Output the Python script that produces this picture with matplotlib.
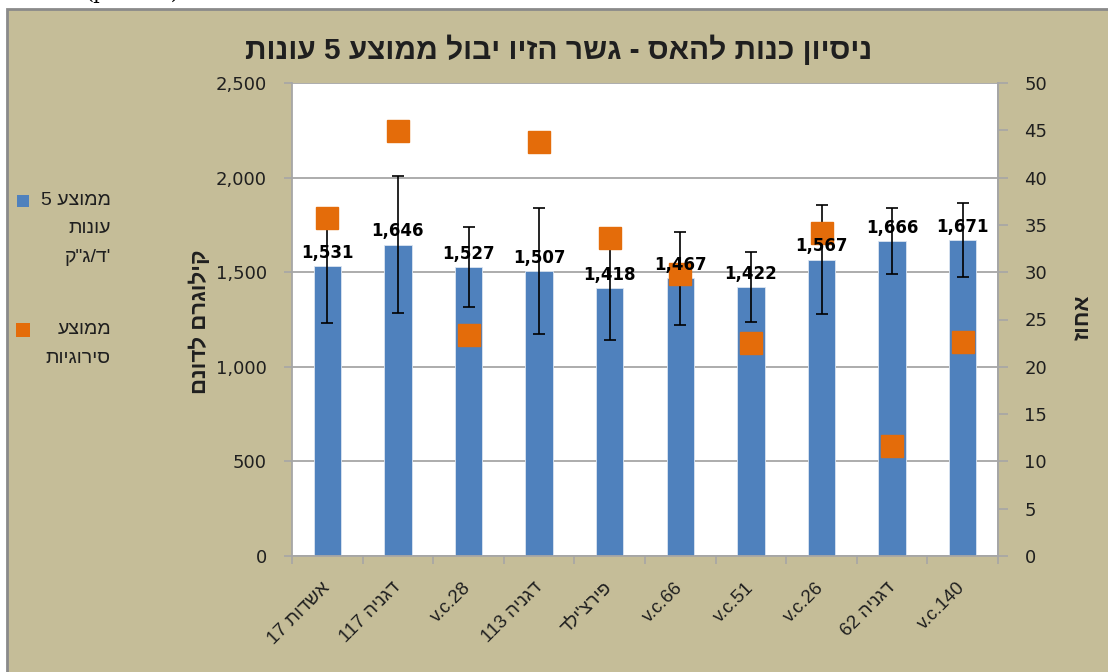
import re
import matplotlib
matplotlib.use("Agg")
import matplotlib.pyplot as plt
from matplotlib.patches import Rectangle
from matplotlib.ticker import FuncFormatter, FixedLocator

# ---------------- data ----------------
categories = ["אשדות 17", "דגניה 117", "v.c.28", "דגניה 113", "פירצ'ילד",
              "v.c.66", "v.c.51", "v.c.26", "דגניה 62", "v.c.140"]
yield_kg = [1531, 1646, 1527, 1507, 1418, 1467, 1422, 1567, 1666, 1671]
yield_err = [300, 362, 213, 333, 275, 248, 187, 287, 173, 196]
alternation_pct = [35.7, 44.9, 23.4, 43.8, 33.6, 29.8, 22.5, 34.1, 11.6, 22.6]

title = "ניסיון כנות להאס - גשר הזיו יבול ממוצע 5 עונות"
ylabel_left = "קילוגרם לדונם"
ylabel_right = "אחוז"
legend_bar_lines = ["ממוצע 5", "עונות", "ק\"ג/ד'"]
legend_pt_lines = ["ממוצע", "סירוגיות"]

# ---------------- helpers ----------------
HEB = ["Liberation Sans", "DejaVu Sans"]


def vis(s):
    """Logical Hebrew -> visual order (simple bidi)."""
    if not re.search("[\u0590-\u05FF]", s):
        return s
    r = s[::-1]
    return re.sub(r"[0-9A-Za-z.,]+", lambda m: m.group(0)[::-1], r)


W, H = 1108, 672


def fx(x):
    return x / W


def fy(y):
    return 1 - y / H


BLUE = "#4F81BD"
ORANGE = "#E46C0A"
TAN = "#C5BD98"
GRID = "#A6A6A6"
TXT = "#1f1f1f"

plt.rcParams["font.family"] = ["DejaVu Sans"]

fig = plt.figure(figsize=(W / 100, H / 100), dpi=100)
fig.patch.set_facecolor("white")

# chart area background (tan) with grey frame
fig.add_artist(Rectangle((fx(7), fy(H + 20)), 1.2, fy(9) - fy(H + 20),
                         transform=fig.transFigure, facecolor=TAN,
                         edgecolor="#8a8a8a", linewidth=2, zorder=0))
# document text above the chart (cut off by the page edge, as in the source)
fig.text(fx(85), fy(-7), "(p<0.05)", family="serif", fontsize=15,
         va="center", ha="left", color="black", zorder=-1)

ax = fig.add_axes([fx(292), fy(556), fx(998) - fx(292), fy(83) - fy(556)])
ax.set_facecolor("white")
ax2 = ax.twinx()

x = list(range(len(categories)))

ax.bar(x, yield_kg, width=0.39, color=BLUE, edgecolor="#dbe5f1",
       linewidth=0.6, zorder=2)
ax.errorbar(x, yield_kg, yerr=yield_err, fmt="none", ecolor="black",
            elinewidth=1.2, capsize=4.3, capthick=1.2, zorder=3)

ax.set_xlim(-0.5, len(categories) - 0.5)
ax.set_ylim(0, 2500)
ax.set_yticks(range(0, 2501, 500))
ax.yaxis.set_major_formatter(FuncFormatter(lambda v, p: f"{int(v):,}"))
ax.grid(axis="y", color=GRID, linewidth=1.3, zorder=0)
ax.set_axisbelow(True)

ax.set_xticks(x)
ax.set_xticklabels([vis(c) for c in categories], rotation=45, ha="right",
                   va="center", rotation_mode="anchor", fontsize=13.5,
                   family=HEB, color=TXT)
ax.tick_params(axis="x", which="major", length=0, pad=21)
ax.xaxis.set_minor_locator(FixedLocator([i - 0.5 for i in range(len(categories) + 1)]))
ax.tick_params(axis="x", which="minor", length=6, color=GRID, width=1.2)
ax.tick_params(axis="y", length=6, color=GRID, width=1.2, pad=12,
               labelsize=13, labelcolor=TXT)

ax.spines["top"].set_visible(False)
for s in ["left", "bottom", "right"]:
    ax.spines[s].set_color(GRID)
    ax.spines[s].set_linewidth(1.3)

# secondary axis
ax2.plot(x, alternation_pct, linestyle="none", marker="s", markersize=15.5,
         color=ORANGE, markeredgecolor=ORANGE, zorder=4)
ax2.set_ylim(0, 50)
ax2.set_yticks(range(0, 51, 5))
ax2.tick_params(axis="y", length=7, color=GRID, width=1.2, pad=12,
                labelsize=13, labelcolor=TXT)
for s in ["top", "left", "bottom"]:
    ax2.spines[s].set_visible(False)
ax2.spines["right"].set_color(GRID)
ax2.spines["right"].set_linewidth(1.3)

# data labels (drawn on the top axes so they sit over the markers)
for xi, v in zip(x, yield_kg):
    ax2.annotate(f"{v:,}", xy=(xi, v), xycoords=ax.transData,
                 xytext=(0, 3), textcoords="offset points",
                 ha="center", va="bottom", fontsize=12,
                 fontweight="bold", color="black", zorder=6)

# titles
fig.text(fx(559), fy(50), vis(title), ha="center", va="center",
         fontsize=21.5, fontweight="bold", family=HEB, color=TXT)
fig.text(fx(200), fy(322), vis(ylabel_left), ha="center", va="center",
         rotation=90, fontsize=16, fontweight="bold", family=HEB, color=TXT)
fig.text(fx(1083), fy(317), vis(ylabel_right), ha="center", va="center",
         rotation=90, fontsize=16, fontweight="bold", family=HEB, color=TXT)

# legend (manual)
fig.add_artist(Rectangle((fx(17), fy(207)), 12 / W, 12 / H,
                         transform=fig.transFigure, facecolor=BLUE,
                         edgecolor="none"))
for i, line in enumerate(legend_bar_lines):
    s = line if '"' in line else vis(line)
    fig.text(fx(111), fy(200 + 28.5 * i), s, ha="right", va="center",
             fontsize=14, family=HEB, color=TXT)
fig.add_artist(Rectangle((fx(16), fy(337)), 14 / W, 14 / H,
                         transform=fig.transFigure, facecolor=ORANGE,
                         edgecolor="none"))
for i, line in enumerate(legend_pt_lines):
    fig.text(fx(111), fy(330 + 28.5 * i), vis(line), ha="right", va="center",
             fontsize=14, family=HEB, color=TXT)

fig.savefig("out.png", dpi=100, facecolor=fig.get_facecolor())
